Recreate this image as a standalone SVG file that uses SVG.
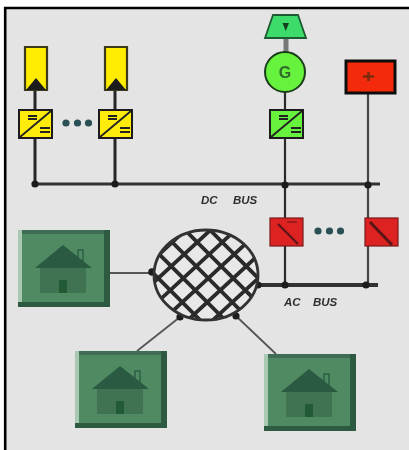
<svg xmlns="http://www.w3.org/2000/svg" width="409" height="450" viewBox="0 0 409 450">
<style>
.wire{stroke:#2b2b2b;stroke-width:2.200;fill:none}
.thick{stroke:#262626;stroke-width:3;fill:none}
.thin{stroke:#555;stroke-width:1.8;fill:none}
.bus{stroke:#333;stroke-width:3.200;fill:none}
.dot{fill:#1c1c1c}
.ell{fill:#2a4f55}
.conv{stroke:#1c1c1c;stroke-width:2}
.mark{stroke:#222;stroke-width:1.800;fill:none}
.pv{fill:#ffec00;stroke:#3a3a1a;stroke-width:2.200}
.lbl{font-family:"Liberation Sans",Arial,sans-serif;font-size:11.500px;font-weight:bold;font-style:italic;fill:#2e2e2e}
</style>
<defs>
<filter id="soft" x="-5%" y="-5%" width="110%" height="110%"><feGaussianBlur stdDeviation="0.55"/></filter>
<clipPath id="netclip"><ellipse cx="206" cy="275" rx="52" ry="45"/></clipPath>
<g id="house">
<rect x="0" y="0" width="92" height="77" fill="#4f8a62"/>
<rect x="0" y="0" width="92" height="4" fill="#3f6c54"/>
<rect x="0" y="0" width="4" height="77" fill="#a9c9b2"/>
<rect x="86" y="0" width="6" height="77" fill="#2f5a42"/>
<rect x="0" y="72" width="92" height="5" fill="#2f5a42"/>
<rect x="22" y="38" width="46" height="25" fill="#3f7351"/>
<rect x="41" y="50" width="8" height="13" fill="#205a36"/>
<path d="M60 29V20h5v13" fill="none" stroke="#2f5f45" stroke-width="1.500"/>
<path d="M45 15L74 38H17Z" fill="#2b5a42"/>
</g>
<g id="pvbox">
<path class="pv" d="M0 0H22V43H0Z"/>
<path d="M11 31L1 43H21Z" fill="#1f1f1f"/>
</g>
<g id="marks">
<path class="mark" d="M1 27L32 1"/>
<path class="mark" d="M9 6H18M9 9H18M21 18H31M21 22H31"/>
</g>
</defs>
<rect width="409" height="450" fill="#ffffff"/>
<g filter="url(#soft)">
<rect x="5" y="8" width="404" height="442" fill="#e4e4e4"/>
<path d="M5.200 450V8H409" fill="none" stroke="#000" stroke-width="2.600"/>

<g id="connectors">
<path class="thick" d="M35 88V184M115 88V184"/>
<path class="bus" d="M35 184H380"/>
<path d="M286 38V56" fill="none" stroke="#777" stroke-width="5"/>
<path class="wire" d="M285 90V285"/>
<path d="M368 94V285" fill="none" stroke="#444" stroke-width="2.200"/>
<path class="bus" d="M258 285H378" style="stroke-width:3.800"/>
<path class="thin" d="M110 273H152M180 317L137 351M236 316L276 354"/>
<circle class="dot" cx="35" cy="184" r="3.600"/>
<circle class="dot" cx="115" cy="184" r="3.600"/>
<circle class="dot" cx="285" cy="185" r="3.600"/>
<circle class="dot" cx="368" cy="185" r="3.600"/>
<circle class="dot" cx="285" cy="285" r="3.600"/>
<circle class="dot" cx="366" cy="285" r="3.600"/>
<circle class="dot" cx="258" cy="285" r="3.600"/>
<circle class="dot" cx="152" cy="272" r="3.800"/>
<circle class="dot" cx="180" cy="317" r="3.600"/>
<circle class="dot" cx="236" cy="316" r="3.600"/>
</g>

<g id="pv1"><use href="#pvbox" x="25" y="47"/></g>
<g id="pv2"><use href="#pvbox" x="105" y="47"/></g>
<g id="conv1"><rect class="conv" x="19" y="110" width="33" height="28" fill="#ffec10"/><use href="#marks" x="19" y="110"/></g>
<g id="conv2"><rect class="conv" x="99" y="110" width="33" height="28" fill="#ffec10"/><use href="#marks" x="99" y="110"/></g>
<g id="dots-top"><circle class="ell" cx="66" cy="123" r="3.600"/><circle class="ell" cx="77.500" cy="123" r="3.600"/><circle class="ell" cx="88.500" cy="123" r="3.600"/></g>

<g id="turbine"><path d="M273 15H298L306 38H265Z" fill="#3ddc6a" stroke="#1f5a30" stroke-width="1.800"/><path d="M282.500 23H289L285.700 31Z" fill="#14401f"/></g>
<g id="generator"><circle cx="285" cy="72" r="20" fill="#66f23c" stroke="#1d3d1a" stroke-width="2"/><text x="285" y="78" text-anchor="middle" style="font-family:'Liberation Sans',Arial,sans-serif;font-size:16px;font-weight:bold;fill:#2f6a2a">G</text></g>
<g id="conv3"><rect class="conv" x="270" y="110" width="33" height="28" fill="#66f23c"/><use href="#marks" x="270" y="110"/></g>

<g id="battery"><rect x="346" y="61" width="49" height="32" fill="#f42a0c" stroke="#111" stroke-width="3"/><path d="M363 76.500H374M368.500 72V81" stroke="#7a2a10" stroke-width="2.500" fill="none"/></g>

<g id="conv4"><rect x="270" y="218" width="33" height="28" fill="#dd2020" stroke="#7a1a1a" stroke-width="1.200"/><path d="M278 224L298 244" stroke="#5a1414" stroke-width="2.200"/><path d="M287 222H297" stroke="#8a1a1a" stroke-width="1.500"/></g>
<g id="conv5"><rect x="365" y="218" width="33" height="28" fill="#dd2020" stroke="#7a1a1a" stroke-width="1.200"/><path d="M370 222L392 245" stroke="#5a1414" stroke-width="3"/></g>
<g id="dots-bottom"><circle class="ell" cx="318" cy="231" r="3.600"/><circle class="ell" cx="329.500" cy="231" r="3.600"/><circle class="ell" cx="340.500" cy="231" r="3.600"/></g>

<g id="network">
<ellipse cx="206" cy="275" rx="52" ry="45" fill="#e8e8e8"/>
<g clip-path="url(#netclip)"><path d="M58 228L218 388M71 216L231 376M84 204L244 364M97 192L257 352M110 180L270 340M123 168L283 328M136 156L296 316M149 144L309 304M162 132L322 292M175 120L335 280M77 284L233 140M89 296L245 152M101 308L257 164M113 320L269 176M125 332L281 188M137 344L293 200M149 356L305 212M161 368L317 224M173 380L329 236" fill="none" stroke="#2a2a2a" stroke-width="3.800"/></g>
<ellipse cx="206" cy="275" rx="52" ry="45" fill="none" stroke="#333" stroke-width="2.800"/>
</g>

<g id="house1"><use href="#house" x="18" y="230"/></g>
<g id="house2"><use href="#house" x="75" y="351"/></g>
<g id="house3"><use href="#house" x="264" y="354"/></g>

<g id="labels">
<text class="lbl" x="201" y="204">DC</text>
<text class="lbl" x="233" y="204">BUS</text>
<text class="lbl" x="284" y="306">AC</text>
<text class="lbl" x="313" y="306">BUS</text>
</g>
</g>
</svg>
